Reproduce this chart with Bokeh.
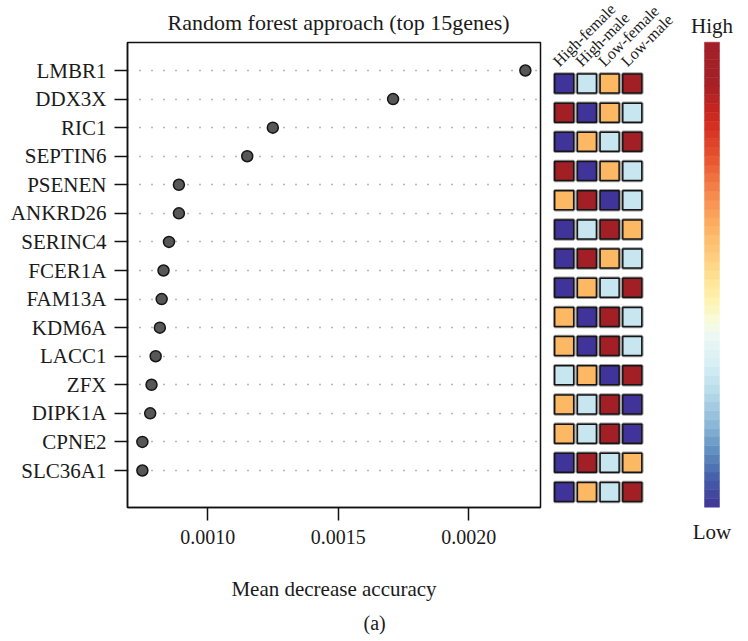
import numpy as np
from bokeh.plotting import figure
from bokeh.layouts import row, column
from bokeh.models import Range1d, FixedTicker, Title, ColumnDataSource
from bokeh.core.properties import value
from bokeh.embed import file_html
from bokeh.resources import INLINE

# ---------------- data ----------------
genes = ["LMBR1", "DDX3X", "RIC1", "SEPTIN6", "PSENEN", "ANKRD26", "SERINC4",
         "FCER1A", "FAM13A", "KDM6A", "LACC1", "ZFX", "DIPK1A", "CPNE2", "SLC36A1"]
importance = [0.002217, 0.001710, 0.001249, 0.001151, 0.000889, 0.000889, 0.000851,
              0.000830, 0.000823, 0.000816, 0.000800, 0.000784, 0.000779, 0.000749, 0.000749]
groups = ["High-female", "High-male", "Low-female", "Low-male"]
# rank of expression within each gene (1 = low ... 4 = high)
high_female = [1, 4, 1, 4, 3, 1, 1, 1, 3, 3, 2, 3, 3, 1, 1]
high_male   = [2, 1, 3, 1, 4, 2, 4, 3, 1, 1, 3, 2, 2, 4, 3]
low_female  = [3, 3, 2, 3, 1, 4, 3, 2, 4, 4, 1, 4, 4, 2, 2]
low_male    = [4, 2, 4, 2, 2, 3, 2, 4, 2, 2, 4, 1, 1, 3, 4]
x_ticks = [0.0010, 0.0015, 0.0020]
x_tick_labels = ["0.0010", "0.0015", "0.0020"]

# ---------------- styles ----------------
FONT = "Liberation Serif"
rank_colors = {1: "#403399", 2: "#C7E6F0", 3: "#FDB863", 4: "#A11F25"}
bar_stops = [  # (fraction from bottom, colour)
    (0.00, "#3F3596"), (0.07, "#4865AC"), (0.12, "#5F8FC1"), (0.18, "#8DB9D7"),
    (0.25, "#B8DCEA"), (0.30, "#D3EDF5"), (0.37, "#EDF8F4"), (0.40, "#F8FBDC"),
    (0.45, "#FFF2AC"), (0.50, "#FEDF8F"), (0.60, "#FDB363"), (0.67, "#F78B4E"),
    (0.75, "#E8552F"), (0.82, "#D42F20"), (0.85, "#C8261F"), (0.91, "#A52027"),
    (1.00, "#A3202A"),
]
H = 640

n = len(genes)
ypos = [n - i for i in range(n)]

# ---------------- dot plot ----------------
p = figure(width=548, height=H,
           x_range=Range1d(0.000692, 0.002275), y_range=Range1d(-0.295, n + 0.98),
           output_backend="svg", toolbar_location=None,
           min_border_left=127, min_border_right=8, min_border_top=42,
           min_border_bottom=H - 507)
p.title.text = "Random forest approach (top 15genes)"
p.title.text_font = FONT
p.title.text_font_size = "22px"
p.title.text_font_style = "normal"
p.title.text_color = "#1a1a1a"
p.title.align = "left"
p.title.offset = 40
p.title.standoff = 14
p.title.vertical_align = "middle"
p.xgrid.visible = False
p.ygrid.visible = False
p.outline_line_color = "#111111"
p.outline_line_width = 1.5

p.hspan(y=ypos, line_color="#707070", line_width=1.3, line_dash="1 11")
p.scatter(x=importance, y=ypos, size=11, fill_color="#575757",
          line_color="#151515", line_width=1.5)

p.yaxis.ticker = FixedTicker(ticks=ypos)
p.yaxis.major_label_overrides = {y: g for y, g in zip(ypos, genes)}
p.xaxis.ticker = FixedTicker(ticks=x_ticks)
p.xaxis.major_label_overrides = {t: s for t, s in zip(x_ticks, x_tick_labels)}
for ax in (p.xaxis[0], p.yaxis[0]):
    ax.major_tick_out = 13
    ax.major_tick_in = 0
    ax.minor_tick_line_color = None
    ax.major_tick_line_width = 1.5
    ax.major_tick_line_color = "#111111"
    ax.axis_line_color = "#111111"
    ax.axis_line_width = 1.5
    ax.major_label_text_font = FONT
    ax.major_label_text_color = "#1a1a1a"
p.xaxis.major_label_text_font_size = "20px"
p.yaxis.major_label_text_font_size = "21px"
p.yaxis.major_label_standoff = 8
p.xaxis.major_label_standoff = 9
p.xaxis.axis_label = "Mean decrease accuracy"
p.xaxis.axis_label_text_font = FONT
p.xaxis.axis_label_text_font_size = "21px"
p.xaxis.axis_label_text_font_style = "normal"
p.xaxis.axis_label_text_color = "#1a1a1a"
p.xaxis.axis_label_standoff = 30

p.add_layout(Title(text="(a)", align="left", offset=236, standoff=12,
                   vertical_align="bottom", text_font=FONT, text_font_size="20px",
                   text_font_style="normal", text_color="#1a1a1a"), "below")

# ---------------- heatmap ----------------
HW = 140
h = figure(width=HW, height=H,
           x_range=Range1d(1 - 15.7 / 22.7, 1 + (HW - 15.7) / 22.7),
           y_range=Range1d(1 - (H - 491.5) / 29.18, n + 83 / 29.18),
           output_backend="svg", toolbar_location=None,
           x_axis_location=None, y_axis_location=None,
           min_border_left=0, min_border_right=0, min_border_top=0, min_border_bottom=0)
h.xgrid.visible = False
h.ygrid.visible = False
h.outline_line_color = None

cx, cy, cc = [], [], []
for j, ranks in enumerate([high_female, high_male, low_female, low_male]):
    for yv, r in zip(ypos, ranks):
        cx.append(j + 1)
        cy.append(yv)
        cc.append(rank_colors[r])
src = ColumnDataSource(dict(x=cx, y=cy, c=cc))
h.rect(x="x", y="y", width=0.837, height=0.651, source=src,
       fill_color=None, line_color="#9a9a9a", line_width=3.5)
h.rect(x="x", y="y", width=0.837, height=0.651, source=src,
       fill_color="c", line_color="#151515", line_width=1.5)
h.text(x=list(range(1, len(groups) + 1)), y=[n + 0.685] * len(groups), text=groups,
       angle=np.pi / 4, x_offset=-8.7, text_align="left", text_baseline="alphabetic",
       text_font=value(FONT), text_font_size="16px", text_color="#1a1a1a")

# ---------------- colour bar ----------------
c = figure(width=58, height=H,
           x_range=Range1d(-1.067, 2.8), y_range=Range1d(-(H - 506.7) / 465.0, 1 + 41.7 / 465.0),
           output_backend="svg", toolbar_location=None,
           x_axis_location=None, y_axis_location=None,
           min_border_left=0, min_border_right=0, min_border_top=0, min_border_bottom=0)
c.xgrid.visible = False
c.ygrid.visible = False
c.outline_line_color = None

steps = 53
fr = [s[0] for s in bar_stops]
rgb = np.array([[int(s[1][k:k + 2], 16) for k in (1, 3, 5)] for s in bar_stops], float)
mids = (np.arange(steps) + 0.5) / steps
cols = []
for m in mids:
    r_, g_, b_ = (np.interp(m, fr, rgb[:, i]) for i in range(3))
    cols.append("#%02x%02x%02x" % (int(round(r_)), int(round(g_)), int(round(b_))))
c.rect(x=[0.5] * steps, y=list(mids), width=1, height=1.0 / steps,
       fill_color=cols, line_color=cols, line_width=0.5)
c.text(x=[0.5, 0.5], y=[1.0338, -0.0538], text=["High", "Low"],
       text_align="center", text_baseline="alphabetic",
       text_font=value(FONT), text_font_size="21px", text_color="#1a1a1a")

layout = row(p, column(h), column(c))
open("out.html", "w").write(file_html(layout, INLINE))
